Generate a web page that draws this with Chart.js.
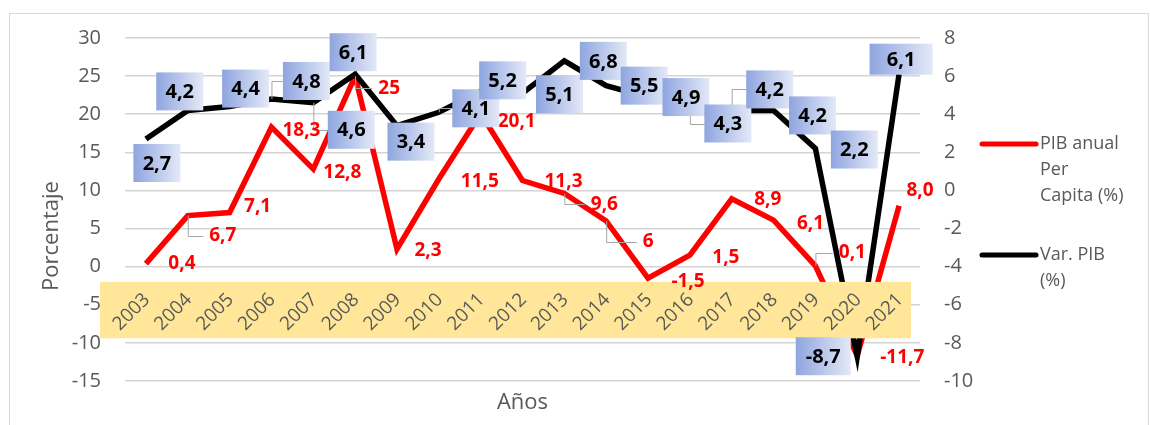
<!DOCTYPE html>
<html>
<head>
<meta charset="utf-8">
<script src="https://cdn.jsdelivr.net/npm/chart.js@4.4.1/dist/chart.umd.min.js"></script>
<style>
  html, body { margin: 0; padding: 0; background: #fff; }
  #marco { position: relative; width: 1150px; height: 425px; overflow: hidden; }
  #marco canvas { position: absolute; left: 0; top: 0; }
  #borde { position: absolute; left: 9px; top: 13px; width: 1140px; height: 440px;
           border: 1px solid #d9d9d9; box-sizing: border-box; pointer-events: none; }
</style>
</head>
<body>
<div id="marco">
  <canvas id="grafico" width="1150" height="425"></canvas>
  <div id="borde"></div>
</div>
<script>
// Datos
const anios = ['2003', '2004', '2005', '2006', '2007', '2008', '2009', '2010', '2011', '2012',
               '2013', '2014', '2015', '2016', '2017', '2018', '2019', '2020', '2021'];
const pibPerCapita = [0.4, 6.7, 7.1, 18.3, 12.8, 25, 2.3, 11.5, 20.1, 11.3,
                      9.6, 6, -1.5, 1.5, 8.9, 6.1, 0.1, -11.7, 8.0];
const varPib = [2.7, 4.2, 4.4, 4.8, 4.6, 6.1, 3.4, 4.1, 5.2, 5.1,
                6.8, 5.5, 4.9, 4.3, 4.2, 4.2, 2.2, -8.7, 6.1];
const textosPib = ['0,4', '6,7', '7,1', '18,3', '12,8', '25', '2,3', '11,5', '20,1', '11,3',
                   '9,6', '6', '-1,5', '1,5', '8,9', '6,1', '0,1', '-11,7', '8,0'];
const textosVar = ['2,7', '4,2', '4,4', '4,8', '4,6', '6,1', '3,4', '4,1', '5,2', '5,1',
                   '6,8', '5,5', '4,9', '4,3', '4,2', '4,2', '2,2', '-8,7', '6,1'];
const ejeIzq = { min: -15, max: 30, paso: 5 };
const ejeDer = { min: -10, max: 8, paso: 2 };

// Posición de las etiquetas (desplazamiento desde el punto, en px)
const despPib = [[36, 0], [35, 20], [28, -6], [30, 3], [29, 3], [34, 12], [31, 1], [41, 3], [36, 8], [41, 1],
                 [40, 11], [42, 21], [40, 3], [36, 2], [36, 1], [37, 3], [37, -13], [45, 2], [21, -15]];
const guiasPib = [1, 5, 10, 11, 16];
const despVar = [[11, 24], [-8, -19], [16, -18], [35, -18], [38, 27], [-2, -22], [14, 16], [37, -4], [22, -11], [37, 1],
                 [39, 0], [38, 0], [38, 0], [38, 15], [38, -21], [39, 5], [39, 1], [-34, 0], [2, -15]];
const guiasVar = [3, 4, 7, 13, 14];

const GRIS = '#595959';
const FUENTE = '"Open Sans", "Noto Sans", sans-serif';

function cajaEtiqueta(ctx, cx, cy, texto, ancho, alto) {
    const x0 = cx - ancho / 2, y0 = cy - alto / 2;
    const grad = ctx.createLinearGradient(x0, 0, x0 + ancho, 0);
    grad.addColorStop(0, '#8EA5DF');
    grad.addColorStop(1, '#E4E9F7');
    ctx.fillStyle = grad;
    ctx.fillRect(x0, y0, ancho, alto);
    ctx.fillStyle = '#000';
    ctx.fillText(texto, cx, cy + 1);
}

const decoracion = {
    id: 'decoracion',
    afterDatasetsDraw(chart) {
        const { ctx, chartArea: ca, scales: { x, y, y2 } } = chart;
        ctx.save();

        // banda amarilla detrás de los años
        const bTop = y.getPixelForValue(-2), bBot = y.getPixelForValue(-9.4);
        ctx.fillStyle = '#FFE699';
        ctx.fillRect(ca.left - 25, bTop, ca.right - ca.left + 16, bBot - bTop);

        // años en diagonal
        ctx.fillStyle = GRIS;
        ctx.font = '19px ' + FUENTE;
        ctx.textAlign = 'right';
        ctx.textBaseline = 'middle';
        const yAnios = y.getPixelForValue(0) + 30;
        anios.forEach((a, i) => {
            ctx.save();
            ctx.translate(x.getPixelForValue(i) + 1, yAnios);
            ctx.rotate(-Math.PI / 4);
            ctx.fillText(a, 0, 0);
            ctx.restore();
        });

        // líneas guía
        ctx.strokeStyle = '#A6A6A6';
        ctx.lineWidth = 1;
        ctx.font = 'bold 19px ' + FUENTE;
        guiasPib.forEach(i => {
            const px = x.getPixelForValue(i), py = y.getPixelForValue(pibPerCapita[i]);
            const cx = px + despPib[i][0], cy = py + despPib[i][1];
            const izq = cx - ctx.measureText(textosPib[i]).width / 2 - 6;
            ctx.beginPath();
            ctx.moveTo(px + 0.5, py);
            ctx.lineTo(px + 0.5, Math.round(cy) + 0.5);
            ctx.lineTo(izq, Math.round(cy) + 0.5);
            ctx.stroke();
        });
        guiasVar.forEach(i => {
            const px = x.getPixelForValue(i), py = y2.getPixelForValue(varPib[i]);
            const cx = px + despVar[i][0], cy = py + despVar[i][1];
            ctx.beginPath();
            ctx.moveTo(px + 0.5, py);
            ctx.lineTo(px + 0.5, Math.round(cy) + 0.5);
            ctx.lineTo(cx - 23, Math.round(cy) + 0.5);
            ctx.stroke();
        });

        // etiquetas de PIB per cápita
        ctx.textAlign = 'center';
        ctx.fillStyle = '#FF0000';
        pibPerCapita.forEach((v, i) => {
            const px = x.getPixelForValue(i), py = y.getPixelForValue(v);
            ctx.fillText(textosPib[i], px + despPib[i][0], py + despPib[i][1]);
        });

        // etiquetas de variación del PIB
        ctx.font = 'bold 20px ' + FUENTE;
        varPib.forEach((v, i) => {
            const px = x.getPixelForValue(i), py = y2.getPixelForValue(v);
            let ancho = 47, alto = 38;
            if (textosVar[i].startsWith('-')) ancho = 55;
            if (i === varPib.length - 1) { ancho = 63; alto = 31; }
            cajaEtiqueta(ctx, px + despVar[i][0], py + despVar[i][1], textosVar[i], ancho, alto);
        });
        ctx.restore();
    },
    afterDraw(chart) {
        const { ctx, chartArea: ca } = chart;
        ctx.save();
        ctx.fillStyle = GRIS;
        ctx.textBaseline = 'middle';

        // títulos de los ejes
        ctx.font = '22px ' + FUENTE;
        ctx.textAlign = 'center';
        ctx.fillText('Años', (ca.left + ca.right) / 2, 403);
        ctx.save();
        ctx.translate(52, 236);
        ctx.rotate(-Math.PI / 2);
        ctx.fillText('Porcentaje', 0, 0);
        ctx.restore();

        // leyenda
        const lx = ca.right + 62;
        ctx.lineWidth = 5;
        ctx.lineCap = 'round';
        ctx.strokeStyle = '#FF0000';
        ctx.beginPath(); ctx.moveTo(lx, 144); ctx.lineTo(lx + 54, 144); ctx.stroke();
        ctx.strokeStyle = '#000';
        ctx.beginPath(); ctx.moveTo(lx, 255); ctx.lineTo(lx + 54, 255); ctx.stroke();
        ctx.font = '18px ' + FUENTE;
        ctx.textAlign = 'left';
        ['PIB anual', 'Per', 'Capita (%)'].forEach((t, k) => ctx.fillText(t, lx + 58, 144 + k * 26));
        ['Var. PIB', '(%)'].forEach((t, k) => ctx.fillText(t, lx + 58, 255 + k * 26));
        ctx.restore();
    }
};

const ctx = document.getElementById('grafico').getContext('2d');
new Chart(ctx, {
    type: 'line',
    data: {
        labels: anios,
        datasets: [
            {
                label: 'PIB anual Per Capita (%)',
                data: pibPerCapita,
                borderColor: '#FF0000',
                borderWidth: 5.5,
                pointRadius: 0,
                yAxisID: 'y',
                order: 2
            },
            {
                label: 'Var. PIB (%)',
                data: varPib,
                borderColor: '#000000',
                borderWidth: 5.5,
                pointRadius: 0,
                yAxisID: 'y2',
                order: 1
            }
        ]
    },
    options: {
        responsive: false,
        animation: false,
        layout: { padding: { top: 38, left: 0, right: 0, bottom: 0 } },
        scales: {
            x: {
                offset: true,
                grid: { display: false },
                border: { display: false },
                ticks: { display: false },
                afterFit: s => { s.height = 44; }
            },
            y: {
                position: 'left',
                min: ejeIzq.min,
                max: ejeIzq.max,
                ticks: { stepSize: ejeIzq.paso, padding: 24, color: GRIS, font: { family: FUENTE, size: 20 } },
                grid: { color: '#d4d4d4', lineWidth: 1.5, drawTicks: false },
                border: { display: false },
                afterFit: s => { s.width = 125; }
            },
            y2: {
                position: 'right',
                min: ejeDer.min,
                max: ejeDer.max,
                ticks: { stepSize: ejeDer.paso, padding: 24, color: GRIS, font: { family: FUENTE, size: 20 } },
                grid: { display: false, drawTicks: false },
                border: { display: false },
                afterFit: s => { s.width = 230; }
            }
        },
        plugins: {
            legend: { display: false },
            tooltip: { enabled: false }
        }
    },
    plugins: [decoracion]
});
</script>
</body>
</html>
